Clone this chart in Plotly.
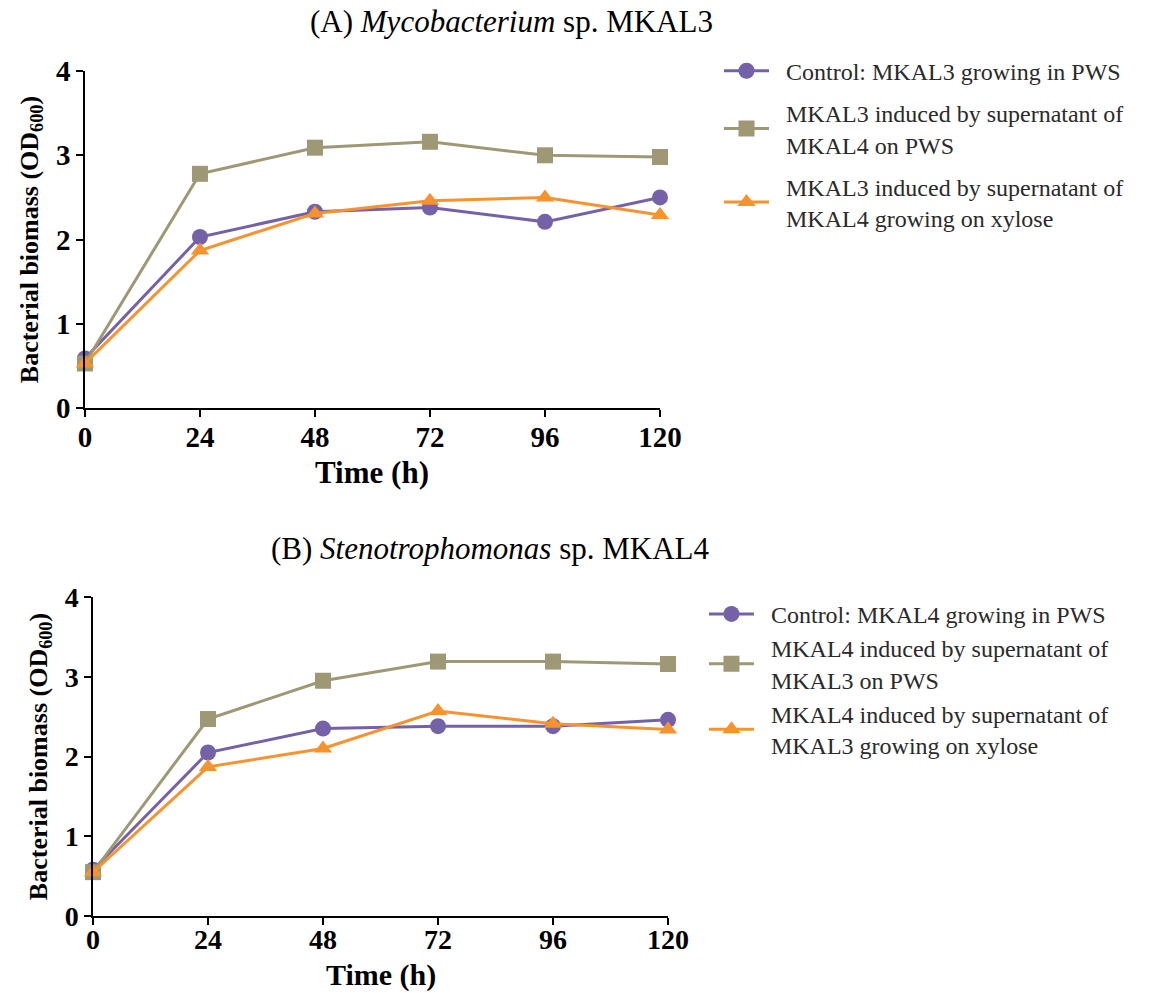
import plotly.graph_objects as go

# Sampling times (h)
time_h = [0, 24, 48, 72, 96, 120]

# (A) Mycobacterium sp. MKAL3 — OD600
mkal3_control = [0.59, 2.03, 2.33, 2.38, 2.21, 2.50]
mkal3_sup_pws = [0.53, 2.78, 3.09, 3.16, 3.00, 2.98]
mkal3_sup_xylose = [0.53, 1.87, 2.31, 2.46, 2.50, 2.29]

# (B) Stenotrophomonas sp. MKAL4 — OD600
mkal4_control = [0.58, 2.05, 2.35, 2.38, 2.38, 2.46]
mkal4_sup_pws = [0.55, 2.47, 2.95, 3.19, 3.19, 3.16]
mkal4_sup_xylose = [0.55, 1.87, 2.10, 2.57, 2.41, 2.34]

x_ticks = [0, 24, 48, 72, 96, 120]
y_ticks = [0, 1, 2, 3, 4]

names_a = [
    ["Control: MKAL3 growing in PWS"],
    ["MKAL3 induced by supernatant of", "MKAL4 on PWS"],
    ["MKAL3 induced by supernatant of", "MKAL4 growing on xylose"],
]
names_b = [
    ["Control: MKAL4 growing in PWS"],
    ["MKAL4 induced by supernatant of", "MKAL3 on PWS"],
    ["MKAL4 induced by supernatant of", "MKAL3 growing on xylose"],
]

PURPLE = "#7561A8"
OLIVE = "#9F9874"
ORANGE = "#F7932F"
SERIF = "Liberation Serif"
PAD = "\u00a0\u00a0"  # gap between legend symbol and label


def legend_label(lines):
    return "<br>".join(PAD + ln for ln in lines)


styles = [
    dict(color=PURPLE, symbol="circle", size=16),
    dict(color=OLIVE, symbol="square", size=16),
    dict(color=ORANGE, symbol="triangle-up", size=16),
]

fig = go.Figure()

panels = [
    ("x", "y", "legend", [mkal3_control, mkal3_sup_pws, mkal3_sup_xylose], names_a, "a"),
    ("x2", "y2", "legend2", [mkal4_control, mkal4_sup_pws, mkal4_sup_xylose], names_b, "b"),
]
for xa, ya, leg, series, names, tag in panels:
    for i, (vals, lines, st) in enumerate(zip(series, names, styles)):
        fig.add_trace(go.Scatter(
            x=time_h, y=vals, name=legend_label(lines), mode="lines+markers",
            xaxis=xa, yaxis=ya, legend=leg, legendgroup=f"{tag}{i}",
            line=dict(color=st["color"], width=3),
            marker=dict(color=st["color"], symbol=st["symbol"], size=st["size"]),
            cliponaxis=False,
        ))

axis_common = dict(
    showline=True, linecolor="black", linewidth=1.5, mirror=False,
    ticks="outside", ticklen=7, tickwidth=1.5, tickcolor="black",
    showgrid=False, zeroline=False, automargin=False,
)
tick_a = dict(family=SERIF, size=29, color="black", weight="bold")
tick_b = dict(family=SERIF, size=28, color="black", weight="bold")

ytitle = dict(text="Bacterial biomass (OD<sub>600</sub>)",
              font=dict(family=SERIF, size=26, color="black", weight="bold"), standoff=10)

legend_font = dict(family=SERIF, size=24, color="#2a2a2a")
panel_title_font = dict(family=SERIF, size=31, color="black")

fig.update_layout(
    width=1151, height=993,
    margin=dict(l=0, r=0, t=0, b=0, autoexpand=False),
    paper_bgcolor="white", plot_bgcolor="white",
    showlegend=True,
    xaxis=dict(domain=[0.0738, 0.5734], anchor="y", range=[0, 120], tickvals=x_ticks,
               ticklabelstandoff=-5, tickfont=tick_a, **axis_common),
    yaxis=dict(domain=[0.589, 0.9285], anchor="x", range=[0, 4], tickvals=y_ticks,
               title=ytitle, tickfont=tick_a, **axis_common),
    xaxis2=dict(domain=[0.0808, 0.5804], anchor="y2", range=[0, 120], tickvals=x_ticks,
                ticklabelstandoff=-9, tickfont=tick_b, **axis_common),
    yaxis2=dict(domain=[0.0775, 0.3988], anchor="x2", range=[0, 4], tickvals=y_ticks,
                title=ytitle, tickfont=tick_b, **axis_common),
    legend=dict(x=0.6247, y=0.951, xanchor="left", yanchor="top", itemwidth=45,
                font=legend_font, tracegroupgap=8, bgcolor="rgba(0,0,0,0)"),
    legend2=dict(x=0.6116, y=0.404, xanchor="left", yanchor="top", itemwidth=45,
                 font=legend_font, tracegroupgap=0, bgcolor="rgba(0,0,0,0)"),
    annotations=[
        dict(text="(A) <i>Mycobacterium</i> sp. MKAL3", x=511 / 1151, y=1 - 22 / 993,
             xref="paper", yref="paper", showarrow=False, xanchor="center", yanchor="middle",
             font=panel_title_font),
        dict(text="(B) <i>Stenotrophomonas</i> sp. MKAL4", x=490 / 1151, y=1 - 548 / 993,
             xref="paper", yref="paper", showarrow=False, xanchor="center", yanchor="middle",
             font=panel_title_font),
        dict(text="Time (h)", x=0.5, y=-0.19, xref="x domain", yref="y domain",
             showarrow=False, xanchor="center", yanchor="middle",
             font=dict(family=SERIF, size=31, color="black", weight="bold")),
        dict(text="Time (h)", x=0.5, y=-0.185, xref="x2 domain", yref="y2 domain",
             showarrow=False, xanchor="center", yanchor="middle",
             font=dict(family=SERIF, size=30, color="black", weight="bold")),
    ],
)

fig.write_html("out.html")
